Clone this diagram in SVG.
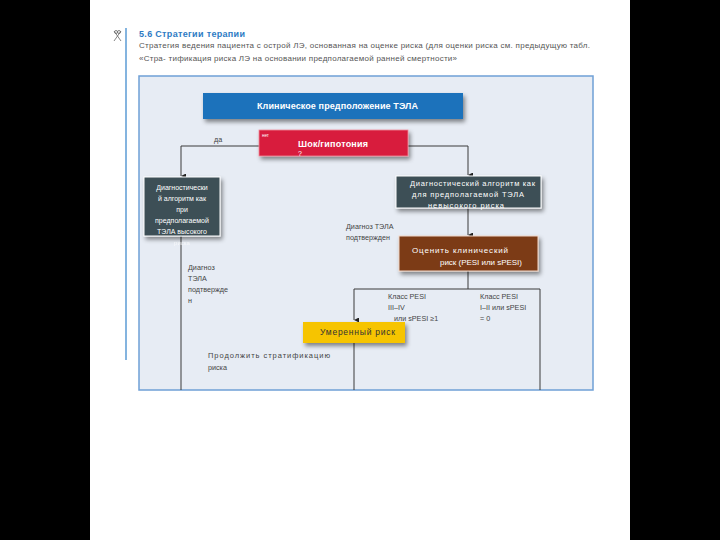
<svg xmlns="http://www.w3.org/2000/svg" width="720" height="540" viewBox="0 0 720 540">
<defs>
<style>
text{font-family:"Liberation Sans",Arial,sans-serif;}
.hd{font-size:8px;fill:#555;}
.lbl{font-size:7.2px;fill:#444;}
.wt{fill:#fff;}
.ln{fill:none;stroke:#3a3a3a;stroke-width:1;}
</style>
<marker id="ar" viewBox="0 0 6 6" refX="3" refY="6" markerWidth="5" markerHeight="5" orient="auto-start-reverse" markerUnits="userSpaceOnUse"><path d="M0,0 L6,0 L3,6 z" fill="#222"/></marker>
<filter id="sh" x="-10%" y="-20%" width="130%" height="160%"><feDropShadow dx="2" dy="3" stdDeviation="2" flood-color="#000" flood-opacity="0.45"/></filter>
</defs>
<rect x="0" y="0" width="720" height="540" fill="#000"/>
<rect x="90" y="0" width="540" height="540" fill="#fff"/>
<line x1="126" y1="28" x2="126" y2="360" stroke="#5b9bd5" stroke-width="1.5"/>
<g id="icon" fill="none" stroke="#666" stroke-width="0.8"><path d="M114,31 L121,41 M121,31 L114,41"/><circle cx="116" cy="32" r="1.5"/><circle cx="119" cy="32" r="1.5"/></g>
<text x="139" y="37" font-size="9" font-weight="bold" fill="#2e7bc4" textLength="106">5.6 Стратегии терапии</text>
<text x="139" y="48" class="hd" textLength="451">Стратегия ведения пациента с острой ЛЭ, основанная на оценке риска (для оценки риска см. предыдущую табл.</text>
<text x="139" y="61" class="hd" textLength="318">«Стра- тификация риска ЛЭ на основании предполагаемой ранней смертности»</text>
<rect x="139" y="76" width="454" height="314" fill="#e7ecf4" stroke="#6fa0d6" stroke-width="1.5"/>
<g id="connectors">
<path class="ln" d="M259,146 H181 V176" marker-end="url(#ar)"/>
<path class="ln" d="M408,146 H468 V175" marker-end="url(#ar)"/>
<path class="ln" d="M181,236 V390"/>
<path class="ln" d="M468,208 V235" marker-end="url(#ar)"/>
<path class="ln" d="M468,271 V289"/>
<path class="ln" d="M354,320 V289 H540 V390" marker-start="url(#ar)"/>
<path class="ln" d="M354,343 V390"/>
</g>
<g id="n-clinical">
<rect x="203" y="93" width="260" height="26" fill="#1f72bb" filter="url(#sh)"/>
<text x="257" y="109" class="wt" font-size="9" font-weight="bold" textLength="161">Клиническое предположение ТЭЛА</text>
</g>
<g id="n-shock">
<rect x="259" y="130" width="149" height="26" fill="#d81e3e" stroke="#f08a9a" stroke-width="0.8" filter="url(#sh)"/>
<text x="262" y="137" font-size="4.5" fill="#fff">нет</text>
<text x="298" y="147" class="wt" font-size="9" font-weight="bold" textLength="70">Шок/гипотония</text>
<text x="298" y="156" class="wt" font-size="7">?</text>
</g>
<text x="214" y="142" class="lbl">да</text>
<g id="n-diag-high">
<rect x="144" y="177" width="76" height="59" fill="#3c4f56" stroke="#fff" stroke-width="1" filter="url(#sh)"/>
<text class="wt" font-size="7" text-anchor="middle"><tspan x="182" y="190">Диагностически</tspan><tspan x="182" y="201">й алгоритм как</tspan><tspan x="182" y="212">при</tspan><tspan x="182" y="223">предполагаемой</tspan><tspan x="182" y="234">ТЭЛА высокого</tspan></text>
<text x="182" y="245" font-size="6" fill="#fff" text-anchor="middle" opacity="0.7">риска</text>
</g>
<g id="n-diag-low">
<rect x="396" y="176" width="145" height="32" fill="#3c4f56" stroke="#fff" stroke-width="1" filter="url(#sh)"/>
<text class="wt" font-size="7.5"><tspan x="410" y="186" textLength="125">Диагностический алгоритм как</tspan><tspan x="412" y="197" textLength="112">для предполагаемой ТЭЛА</tspan><tspan x="428" y="208" textLength="76">невысокого риска</tspan></text>
</g>
<text class="lbl"><tspan x="346" y="229">Диагноз ТЭЛА</tspan><tspan x="346" y="240">подтвержден</tspan></text>
<g id="n-assess">
<rect x="399" y="236" width="139" height="35" fill="#7b3a16" stroke="#f2d8c8" stroke-width="1" filter="url(#sh)"/>
<text class="wt" font-size="8"><tspan x="412" y="253" textLength="96">Оценить клинический</tspan><tspan x="440" y="265" textLength="82">риск (PESI или sPESI)</tspan></text>
</g>
<text class="lbl"><tspan x="188" y="270">Диагноз</tspan><tspan x="188" y="281">ТЭЛА</tspan><tspan x="188" y="292">подтвержде</tspan><tspan x="188" y="303">н</tspan></text>
<text class="lbl"><tspan x="388" y="299">Класс PESI</tspan><tspan x="388" y="310">III–IV</tspan><tspan x="394" y="321">или sPESI ≥1</tspan></text>
<text class="lbl"><tspan x="480" y="299">Класс PESI</tspan><tspan x="480" y="310">I–II или sPESI</tspan><tspan x="480" y="321">= 0</tspan></text>
<g id="n-moderate">
<rect x="303" y="322" width="102" height="21" fill="#f6c400" filter="url(#sh)"/>
<text x="320" y="335" font-size="8.5" fill="#333" textLength="75">Умеренный риск</text>
</g>
<text x="208" y="358" font-size="7.5" fill="#444" textLength="122">Продолжить стратификацию</text>
<text x="208" y="370" class="lbl">риска</text>
</svg>
